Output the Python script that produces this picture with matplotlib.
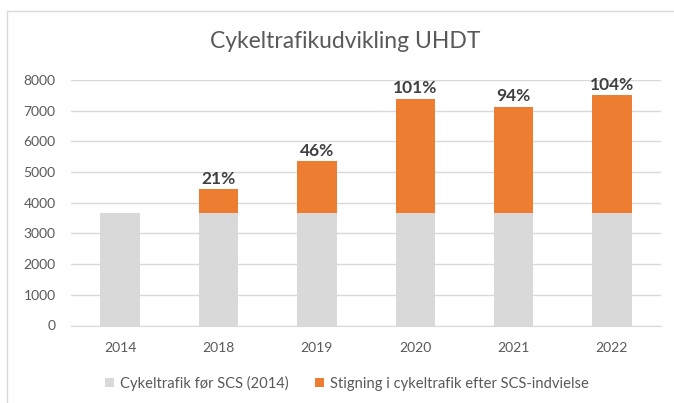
# -*- coding: utf-8 -*-

import numpy as np
import matplotlib.pyplot as plt
from matplotlib.patches import Rectangle

plt.rcParams['font.family'] = ['Lato', 'DejaVu Sans']

years = ['2014', '2018', '2019', '2020', '2021', '2022']
base = [3670, 3670, 3670, 3670, 3670, 3670]
increase = [0, 770, 1690, 3720, 3460, 3830]
pct_labels = ['', '21%', '46%', '101%', '94%', '104%']

grey = '#D9D9D9'
orange = '#ED7D31'
txt = '#595959'

fig = plt.figure(figsize=(6.74, 4.03), dpi=100)
fig.patch.set_facecolor('white')

# chart frame
fig.patches.append(Rectangle((7/674, -0.05), 1.0, 1 - 11/403 + 0.05,
                             transform=fig.transFigure, fill=False,
                             edgecolor='#D9D9D9', linewidth=1))

ax = fig.add_axes([71/674, 1 - 325.5/403, 590/674, 245.5/403])
x = np.arange(len(years))
ax.bar(x, base, width=0.4, color=grey, label='Cykeltrafik før SCS (2014)', zorder=3)
ax.bar(x, increase, width=0.4, bottom=base, color=orange,
       label='Stigning i cykeltrafik efter SCS-indvielse', zorder=3)

for i in range(len(years)):
    if pct_labels[i]:
        ax.text(x[i], base[i] + increase[i] + 80, pct_labels[i], ha='center', va='bottom',
                fontsize=12.5, fontweight='bold', color='#404040')

ax.set_xlim(-0.5, len(years) - 0.5)
ax.set_ylim(0, 8000)
ax.set_yticks(range(0, 8001, 1000))
ax.set_xticks(x)
ax.set_xticklabels(years)
ax.yaxis.grid(True, color=grey, linewidth=1, zorder=0)
ax.set_axisbelow(True)
for s in ['top', 'right', 'left']:
    ax.spines[s].set_visible(False)
ax.spines['bottom'].set_color(grey)
ax.tick_params(length=0, labelsize=10, colors=txt)
ax.tick_params(axis='y', pad=11)
ax.tick_params(axis='x', pad=12)

fig.text(345/674, 1 - 42/403, 'Cykeltrafikudvikling UHDT', ha='center', va='center',
         fontsize=16.5, color=txt)

leg = ax.legend(loc='center', bbox_to_anchor=(347/674, 1 - 383/403),
                bbox_transform=fig.transFigure, ncol=2, frameon=False,
                fontsize=10.6, handlelength=0.6, handleheight=0.6,
                handletextpad=0.4, columnspacing=1.8)
for t in leg.get_texts():
    t.set_color(txt)

fig.savefig('out.png', dpi=100)
